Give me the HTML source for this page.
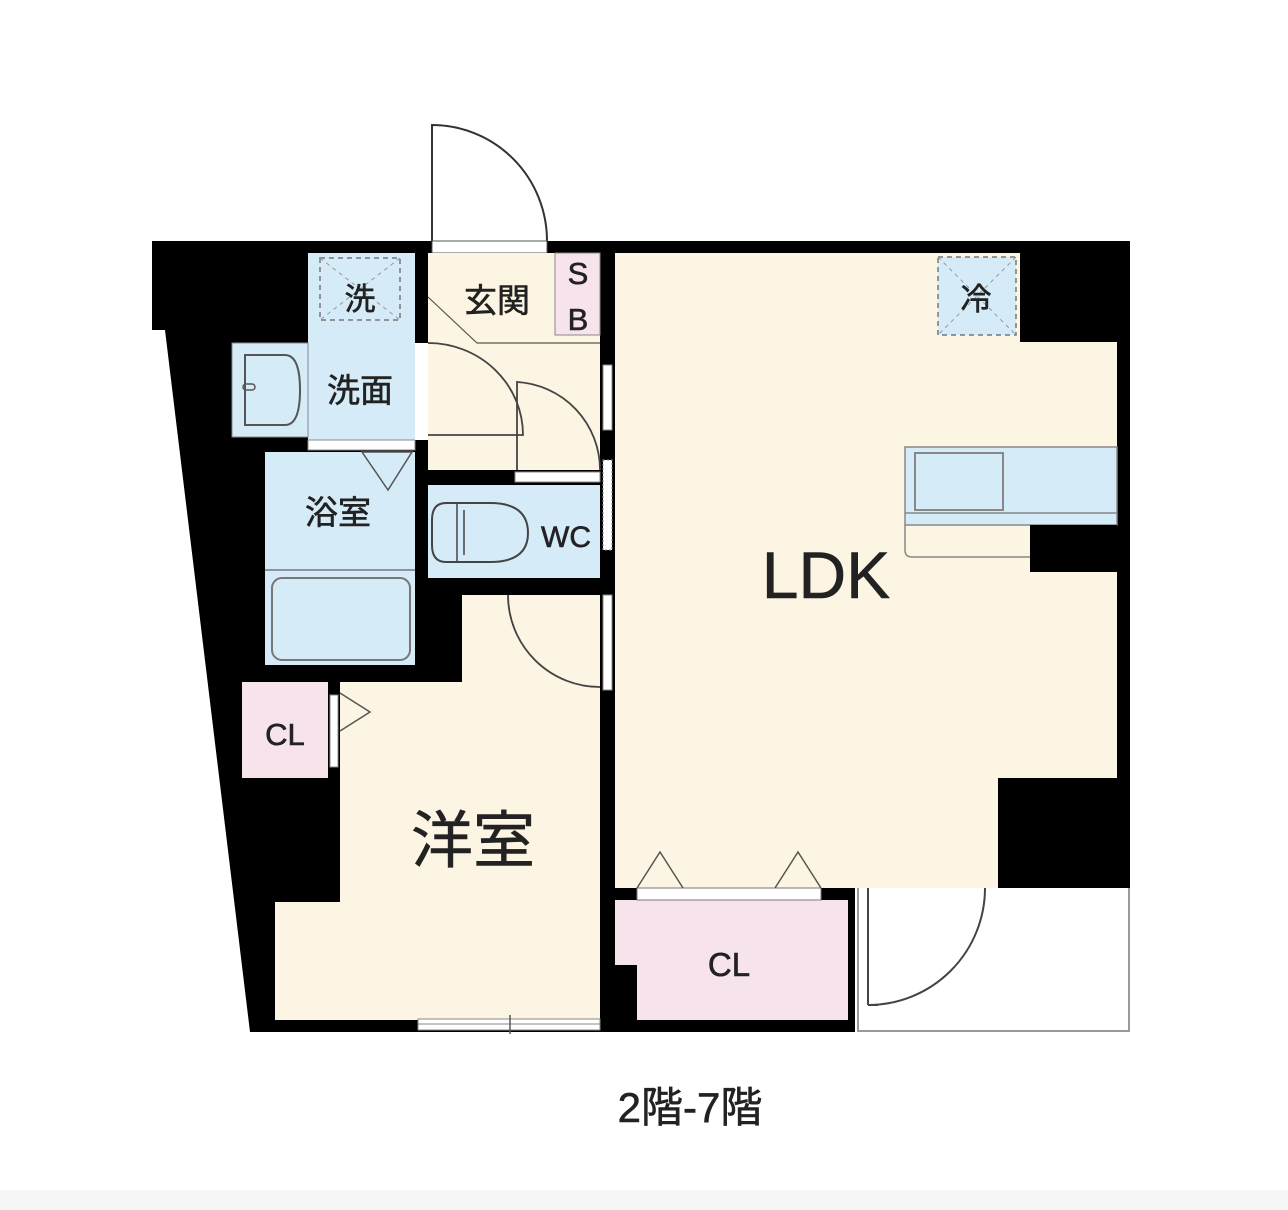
<!DOCTYPE html>
<html><head><meta charset="utf-8"><style>
html,body{margin:0;padding:0;background:#fff;}
svg{display:block;}
text{font-family:"Liberation Sans","Noto Sans CJK JP",sans-serif;fill:#222;stroke:#222;stroke-width:0.6;}
</style></head><body>
<svg width="1288" height="1210" viewBox="0 0 1288 1210" xmlns="http://www.w3.org/2000/svg">
<rect x="0" y="0" width="1288" height="1210" fill="#fff"/>
<rect x="0" y="1190" width="1288" height="20" fill="#f6f6f6"/>
<!-- balcony -->
<rect x="858" y="880" width="271" height="151" fill="#fff" stroke="#999" stroke-width="2"/>
<path d="M868 888 V1005 M868 1005 A117 117 0 0 0 985 888" fill="none" stroke="#444" stroke-width="2"/>
<line x1="868" y1="1005" x2="878" y2="1005" stroke="#444" stroke-width="2"/>
<!-- footprint -->
<polygon points="152,241 1130,241 1130,888 855,888 855,1032 250,1032 165,330 152,330" fill="#000"/>
<!-- entry door outside -->
<path d="M432 241 V125 A115 116 0 0 1 547 241" fill="none" stroke="#333" stroke-width="2"/>
<rect x="432" y="241" width="115" height="12" fill="#fff" stroke="#555" stroke-width="1"/>
<!-- laundry + washroom -->
<rect x="308" y="253" width="107" height="187" fill="#d5ebf8"/>
<rect x="320" y="258" width="80" height="62" fill="none" stroke="#777" stroke-width="1.5" stroke-dasharray="5,4"/>
<path d="M320 258 L400 320 M400 258 L320 320" stroke="#999" stroke-width="1" stroke-dasharray="4,4"/>
<rect x="232" y="343" width="76" height="94" fill="#d5ebf8" stroke="#888" stroke-width="1"/>
<path d="M245 355 H285 Q300 355 300 390 Q300 425 285 425 H245 Z" fill="none" stroke="#555" stroke-width="2"/>
<rect x="243" y="384" width="12" height="6" rx="3" fill="none" stroke="#555" stroke-width="1.5"/>
<rect x="308" y="440" width="107" height="10" fill="#fff" stroke="#888" stroke-width="1"/>
<!-- bath -->
<rect x="265" y="452" width="150" height="213" fill="#d5ebf8"/>
<line x1="265" y1="570" x2="415" y2="570" stroke="#777" stroke-width="1.5"/>
<rect x="272" y="578" width="138" height="82" rx="10" fill="none" stroke="#777" stroke-width="2"/>
<polygon points="362,452 412,452 388,490" fill="none" stroke="#555" stroke-width="1.5"/>
<!-- genkan -->
<rect x="428" y="253" width="172" height="217" fill="#fcf5e3"/>
<rect x="555" y="253" width="45" height="82" fill="#f7e3ec" stroke="#888" stroke-width="1"/>
<path d="M428 297 L477 343 H600" fill="none" stroke="#555" stroke-width="1.2"/>
<rect x="415" y="343" width="13" height="97" fill="#fff"/>
<path d="M428 343 A95 92 0 0 1 523 435 H428" fill="none" stroke="#444" stroke-width="1.8"/>
<path d="M517 470 V382 A88 88 0 0 1 600 470" fill="none" stroke="#444" stroke-width="1.8"/>
<rect x="428" y="470" width="87" height="15" fill="#000"/>
<rect x="515" y="472" width="85" height="10" fill="#fff" stroke="#888" stroke-width="1"/>
<!-- WC -->
<rect x="428" y="485" width="172" height="93" fill="#d5ebf8"/>
<path d="M446 503 H490 Q528 503 528 533 Q528 562 490 562 H446 Q432 562 432 545 V520 Q432 503 446 503 Z" fill="none" stroke="#444" stroke-width="2"/>
<line x1="457" y1="503" x2="457" y2="562" stroke="#444" stroke-width="1.5"/>
<line x1="464" y1="510" x2="464" y2="555" stroke="#444" stroke-width="1.5"/>
<!-- wall windows -->
<rect x="603" y="365" width="9" height="65" fill="#fff" stroke="#888" stroke-width="1"/>
<rect x="603" y="460" width="9" height="90" fill="#fff" stroke="#888" stroke-width="1" stroke-dasharray="2,2"/>
<rect x="603" y="595" width="9" height="95" fill="#fff" stroke="#888" stroke-width="1"/>
<!-- western room -->
<polygon points="462,595 600,595 600,1020 275,1020 275,902 340,902 340,682 462,682" fill="#fcf5e3"/>
<path d="M508 595 A92 92 0 0 0 600 687" fill="none" stroke="#444" stroke-width="1.8"/>
<rect x="242" y="682" width="86" height="96" fill="#f7e3ec"/>
<rect x="330" y="695" width="8" height="72" fill="#fff" stroke="#888" stroke-width="1"/>
<polyline points="340,693 370,712 340,731" fill="none" stroke="#555" stroke-width="1.5"/>
<rect x="418" y="1019" width="182" height="11" fill="#fff" stroke="#888" stroke-width="1"/>
<line x1="418" y1="1024" x2="600" y2="1024" stroke="#888" stroke-width="1"/>
<line x1="510" y1="1015" x2="510" y2="1034" stroke="#555" stroke-width="1.5"/>
<!-- LDK -->
<polygon points="615,253 1020,253 1020,342 1117,342 1117,778 998,778 998,888 615,888" fill="#fcf5e3"/>
<rect x="938" y="257" width="78" height="78" fill="#d5ebf8" stroke="#777" stroke-width="1.5" stroke-dasharray="5,4"/>
<path d="M938 257 L1016 335 M1016 257 L938 335" stroke="#999" stroke-width="1" stroke-dasharray="4,4"/>
<path d="M905 525 V550 Q905 557 912 557 H1030" fill="none" stroke="#888" stroke-width="1.5"/>
<rect x="905" y="447" width="212" height="78" fill="#d5ebf8" stroke="#888" stroke-width="1.5"/>
<line x1="905" y1="513" x2="1117" y2="513" stroke="#888" stroke-width="1.5"/>
<rect x="915" y="453" width="88" height="57" fill="none" stroke="#888" stroke-width="2"/>
<rect x="1030" y="525" width="87" height="47" fill="#000"/>
<!-- bottom closet -->
<rect x="615" y="900" width="233" height="120" fill="#f7e3ec"/>
<rect x="615" y="965" width="22" height="55" fill="#000"/>
<rect x="637" y="888" width="184" height="12" fill="#fff" stroke="#777" stroke-width="1"/>
<polyline points="637,888 660,852 683,888" fill="none" stroke="#555" stroke-width="1.5"/>
<polyline points="775,888 798,852 821,888" fill="none" stroke="#555" stroke-width="1.5"/>
<!-- labels -->
<text x="360" y="310" font-size="31" text-anchor="middle">洗</text>
<text x="360" y="402" font-size="33" text-anchor="middle">洗面</text>
<text x="338" y="524" font-size="33" text-anchor="middle">浴室</text>
<text x="497" y="312" font-size="33" text-anchor="middle">玄関</text>
<text x="578" y="284" font-size="31" text-anchor="middle">S</text>
<text x="578" y="330" font-size="31" text-anchor="middle">B</text>
<text x="566" y="547" font-size="30" text-anchor="middle">WC</text>
<text x="976" y="310" font-size="31" text-anchor="middle">冷</text>
<text x="826" y="598" font-size="66" text-anchor="middle">LDK</text>
<text x="473" y="862" font-size="62" text-anchor="middle">洋室</text>
<text x="285" y="745" font-size="31" text-anchor="middle">CL</text>
<text x="729" y="976" font-size="33" text-anchor="middle">CL</text>
<text x="690" y="1122" font-size="42" text-anchor="middle">2階-7階</text>
</svg>
</body></html>
